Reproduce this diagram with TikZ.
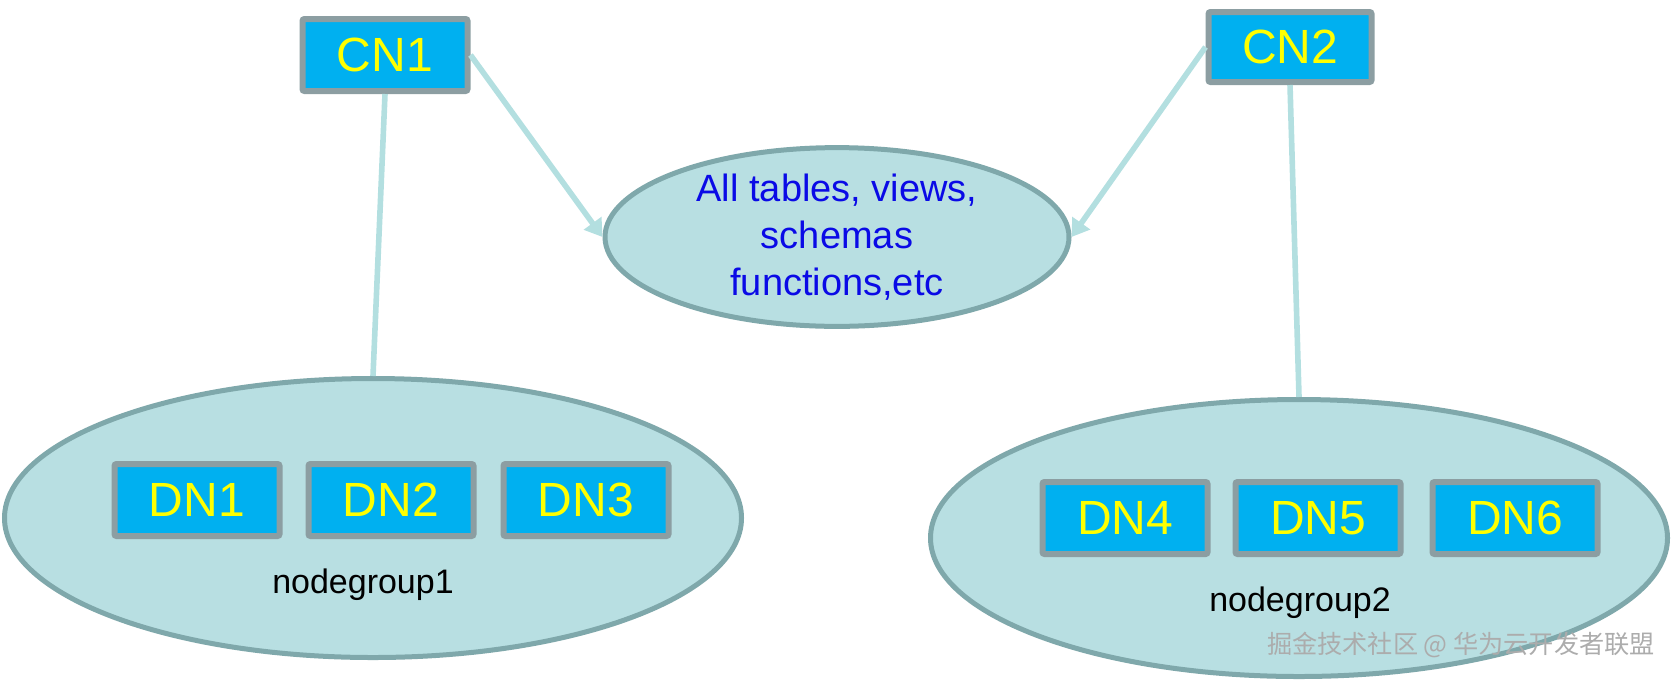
\documentclass[tikz,border=0pt]{standalone}
\usepackage{fontspec}
\setmainfont{Liberation Sans}
\newfontfamily\cjkfont{Noto Sans CJK SC}
\usetikzlibrary{shapes.geometric,arrows.meta}
\definecolor{boxblue}{HTML}{00B0F0}
\definecolor{boxedge}{HTML}{8C9EA2}
\definecolor{grpfill}{HTML}{B8DFE2}
\definecolor{grpedge}{HTML}{7FA8AB}
\definecolor{linkcol}{HTML}{B3DFE0}
\definecolor{txtblue}{HTML}{0A0AE6}
\definecolor{txtyellow}{HTML}{FFFF00}

\begin{document}
\begin{tikzpicture}[x=0.5pt,y=-0.5pt,
  nodebox/.style={draw=boxedge,line width=3pt,fill=boxblue,rounded corners=1pt,
    minimum width=82.5pt,minimum height=36pt,inner sep=0pt,
    text=txtyellow,font=\fontsize{24}{24}\selectfont},
  group/.style={ellipse,draw=grpedge,line width=2.5pt,fill=grpfill,inner sep=0pt},
  link/.style={draw=linkcol,line width=2.8pt}]
\useasboundingbox (0,0) rectangle (1673,681);
% node groups
\node[group,minimum width=368.5pt,minimum height=139.5pt] (grp1) at (373,518){};
\node[group,minimum width=368.5pt,minimum height=138.5pt] (grp2) at (1299,538){};
\node[group,minimum width=232pt,minimum height=74pt,align=center,text=txtblue,
  font=\fontsize{19}{23.5}\selectfont] (catalog) at (837,237)
  {All tables, views,\\schemas\\functions,etc};
% coordinator nodes
\node[nodebox] (cn1) at (385,55){CN1};
\node[nodebox,minimum width=81.5pt,minimum height=35pt] (cn2) at (1290,47){CN2};
% data nodes
\node[nodebox] (dn1) at (197,500){DN1};
\node[nodebox] (dn2) at (391,500){DN2};
\node[nodebox] (dn3) at (586,500){DN3};
\node[nodebox] (dn4) at (1125,518){DN4};
\node[nodebox] (dn5) at (1318,518){DN5};
\node[nodebox] (dn6) at (1515,518){DN6};
\node[font=\fontsize{17}{17}\selectfont] (lbl1) at (363,585){nodegroup1};
\node[font=\fontsize{17}{17}\selectfont] (lbl2) at (1300,603){nodegroup2};
% links
\draw[link] (cn1.south) -- (grp1.north);
\draw[link] (cn2.south) -- (grp2.north);
\draw[link,-{Triangle[length=8.5pt,width=10.5pt]},linkcol] (cn1.east) -- (catalog.west);
\draw[link,-{Triangle[length=8.5pt,width=10.5pt]},linkcol] (cn2.west) -- (catalog.east);
\node[text=gray!65,font=\cjkfont\fontsize{12.6}{13}\selectfont] (mark) at (1461,645)
  {掘金技术社区 @ 华为云开发者联盟};
\end{tikzpicture}
\end{document}
